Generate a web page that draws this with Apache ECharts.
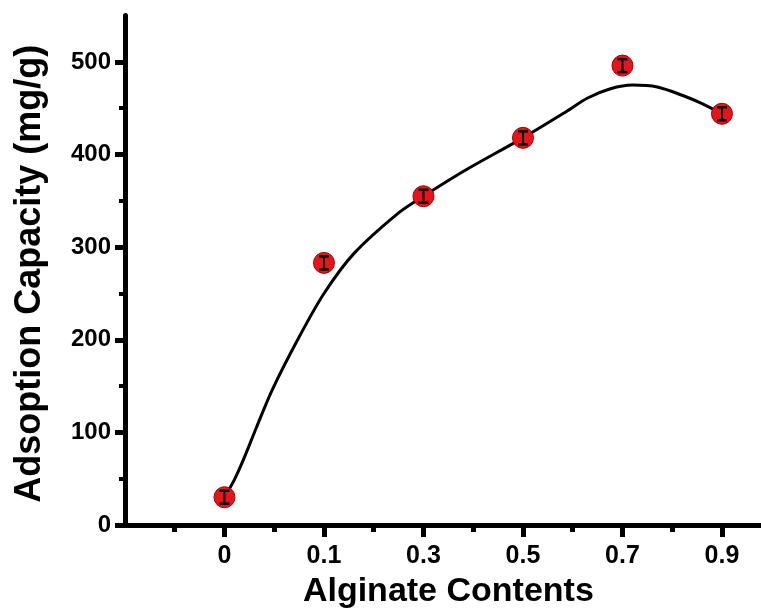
<!DOCTYPE html>
<html>
<head>
<meta charset="utf-8">
<script src="https://cdn.jsdelivr.net/npm/echarts@6/dist/echarts.min.js"></script>
<style>html,body{margin:0;padding:0;background:#fff;overflow:hidden}#c{width:761px;height:612px}</style>
</head>
<body>
<div id="c"></div>
<script>
const categories = ['0', '0.1', '0.3', '0.5', '0.7', '0.9'];
const capacity = [30, 283, 355, 418, 496, 444];
const errors = [7, 7, 7, 7, 7, 7];
const fitX = [0, 0.1, 0.2, 0.32, 0.48, 0.75, 1.0, 1.3, 1.75, 2.0, 2.42, 3.0, 3.43, 3.65, 3.88, 4.1, 4.35, 4.6, 4.8, 5.0];
const fitY = [30, 49, 73, 105, 146, 203, 250, 293, 337, 355, 383, 418, 446, 461, 471, 475, 473, 464, 455, 444];
const yMajorTicks = [0, 100, 200, 300, 400, 500];
const yMinorTicks = [50, 150, 250, 350, 450];
const xMajorTicks = [0, 1, 2, 3, 4, 5];
const xMinorTicks = [-0.5, 0.5, 1.5, 2.5, 3.5, 4.5];

const FONT = "'Liberation Sans', Arial, sans-serif";
const chart = echarts.init(document.getElementById('c'), null, {renderer: 'canvas'});

const points = capacity.map((v, i) => [i, v]);
const fitData = fitX.map((x, i) => [x, fitY[i]]);
const errData = capacity.map((v, i) => [i, v - errors[i], v + errors[i]]);

chart.setOption({
  animation: false,
  backgroundColor: '#fff',
  grid: {left: 125, right: -10.7, top: 15.6, bottom: 87, containLabel: false, outerBoundsMode: 'none'},
  xAxis: [{
    type: 'value', min: -1, max: 5.5, interval: 1,
    axisLine: {show: true, onZero: false, lineStyle: {color: '#000', width: 5}},
    axisTick: {show: true, inside: false, length: 12, customValues: xMajorTicks, lineStyle: {color: '#000', width: 5}},
    axisLabel: {
      customValues: xMajorTicks, margin: 19,
      fontFamily: FONT, fontWeight: 'bold', fontSize: 25, color: '#000',
      formatter: v => categories[Math.round(v)] !== undefined ? categories[Math.round(v)] : ''
    },
    splitLine: {show: false},
    name: 'Alginate Contents', nameLocation: 'middle', nameGap: 50,
    nameTextStyle: {fontFamily: FONT, fontWeight: 'bold', fontSize: 34, color: '#000'}
  }, {
    type: 'value', min: -1, max: 5.5, interval: 1, position: 'bottom',
    axisLine: {show: false, onZero: false},
    axisTick: {show: true, inside: false, length: 7, customValues: xMinorTicks, lineStyle: {color: '#000', width: 5}},
    axisLabel: {show: false},
    splitLine: {show: false}
  }],
  yAxis: [{
    type: 'value', min: 0, max: 550, interval: 50,
    axisLine: {show: true, onZero: false, lineStyle: {color: '#000', width: 5}},
    axisTick: {show: true, inside: false, length: 10, customValues: yMajorTicks, lineStyle: {color: '#000', width: 5}},
    axisLabel: {
      customValues: yMajorTicks, margin: 14,
      fontFamily: FONT, fontWeight: 'bold', fontSize: 24, color: '#000'
    },
    splitLine: {show: false},
    name: 'Adsoption Capacity (mg/g)', nameLocation: 'middle', nameGap: 77, nameRotate: 90,
    nameTextStyle: {fontFamily: FONT, fontWeight: 'bold', fontSize: 36, color: '#000', padding: [0, 7, 0, 0]}
  }, {
    type: 'value', min: 0, max: 550, interval: 50, position: 'left',
    axisLine: {show: false, onZero: false},
    axisTick: {show: true, inside: false, length: 6, customValues: yMinorTicks, lineStyle: {color: '#000', width: 4}},
    axisLabel: {show: false},
    splitLine: {show: false}
  }],
  series: [{
    type: 'line', data: fitData, smooth: 0.3, showSymbol: false, symbol: 'none',
    lineStyle: {color: '#000', width: 3}, z: 2
  }, {
    type: 'scatter', data: points, symbol: 'circle', symbolSize: 21,
    itemStyle: {color: '#e8141c', borderColor: '#a30000', borderWidth: 1, opacity: 1}, z: 3
  }, {
    type: 'custom', data: errData, z: 4,
    renderItem: (params, api) => {
      const x = api.value(0);
      const lo = api.coord([x, api.value(1)]);
      const hi = api.coord([x, api.value(2)]);
      const hw = 5;
      const st = {stroke: '#000', lineWidth: 2.5};
      return {type: 'group', children: [
        {type: 'line', shape: {x1: lo[0], y1: lo[1], x2: hi[0], y2: hi[1]}, style: {stroke: '#000', lineWidth: 2}},
        {type: 'line', shape: {x1: lo[0] - hw, y1: lo[1], x2: lo[0] + hw, y2: lo[1]}, style: st},
        {type: 'line', shape: {x1: hi[0] - hw, y1: hi[1], x2: hi[0] + hw, y2: hi[1]}, style: st}
      ]};
    }
  }]
});
</script>
</body>
</html>
